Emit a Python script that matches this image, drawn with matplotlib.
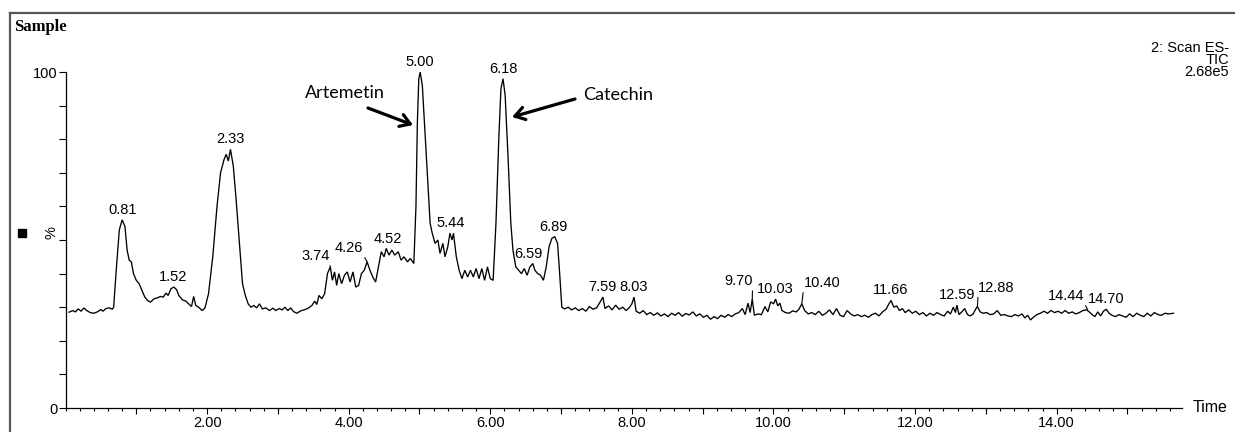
import numpy as np
import matplotlib
matplotlib.use("Agg")
import matplotlib.pyplot as plt
from matplotlib.lines import Line2D
from matplotlib.ticker import FixedLocator, MultipleLocator, FuncFormatter

# ---------------- data ----------------
time_min = [
    0.05, 0.10, 0.14, 0.18, 0.22, 0.26, 0.30, 0.35, 0.40, 0.45, 0.50, 0.53, 0.57, 0.62, 0.66, 0.68,
    0.72, 0.76, 0.80, 0.84, 0.87, 0.90, 0.93, 0.96, 1.00, 1.04, 1.08, 1.12, 1.16, 1.20, 1.25, 1.30,
    1.34, 1.38, 1.42, 1.45, 1.49, 1.53, 1.57, 1.60, 1.65, 1.70, 1.74, 1.78, 1.81, 1.84, 1.88, 1.93,
    1.97, 2.02, 2.08, 2.14, 2.19, 2.24, 2.27, 2.30, 2.33, 2.37, 2.41, 2.46, 2.50, 2.54, 2.58, 2.62,
    2.66, 2.70, 2.74, 2.78, 2.83, 2.88, 2.93, 2.97, 3.02, 3.06, 3.10, 3.14, 3.18, 3.22, 3.27, 3.32,
    3.37, 3.42, 3.48, 3.52, 3.55, 3.58, 3.62, 3.66, 3.70, 3.74, 3.77, 3.80, 3.83, 3.86, 3.90, 3.94,
    3.98, 4.02, 4.06, 4.10, 4.14, 4.18, 4.22, 4.26, 4.30, 4.34, 4.38, 4.42, 4.46, 4.50, 4.53, 4.57,
    4.61, 4.65, 4.70, 4.74, 4.78, 4.83, 4.87, 4.92, 4.95, 4.97, 4.99, 5.01, 5.04, 5.07, 5.11, 5.15,
    5.18, 5.22, 5.26, 5.29, 5.33, 5.36, 5.40, 5.43, 5.46, 5.48, 5.52, 5.56, 5.60, 5.64, 5.68, 5.72,
    5.76, 5.80, 5.84, 5.88, 5.92, 5.96, 6.00, 6.04, 6.08, 6.12, 6.15, 6.18, 6.21, 6.25, 6.29, 6.32,
    6.36, 6.40, 6.44, 6.48, 6.52, 6.56, 6.60, 6.63, 6.67, 6.71, 6.75, 6.79, 6.83, 6.87, 6.91, 6.95,
    6.98, 7.01, 7.05, 7.10, 7.15, 7.20, 7.25, 7.30, 7.35, 7.40, 7.45, 7.50, 7.55, 7.59, 7.62, 7.67,
    7.72, 7.77, 7.82, 7.87, 7.92, 7.96, 8.00, 8.03, 8.06, 8.11, 8.16, 8.21, 8.26, 8.31, 8.36, 8.41,
    8.46, 8.51, 8.56, 8.61, 8.66, 8.71, 8.76, 8.81, 8.86, 8.91, 8.96, 9.01, 9.06, 9.11, 9.16, 9.21,
    9.26, 9.31, 9.36, 9.41, 9.46, 9.51, 9.56, 9.60, 9.64, 9.67, 9.70, 9.73, 9.78, 9.83, 9.88, 9.92,
    9.96, 10.00, 10.03, 10.06, 10.09, 10.12, 10.17, 10.22, 10.27, 10.32, 10.36, 10.40, 10.44, 10.49,
    10.54, 10.59, 10.64, 10.69, 10.74, 10.79, 10.84, 10.89, 10.94, 10.99, 11.04, 11.09, 11.14, 11.19,
    11.24, 11.29, 11.34, 11.39, 11.44, 11.49, 11.54, 11.59, 11.63, 11.66, 11.70, 11.74, 11.78, 11.82,
    11.86, 11.91, 11.96, 12.01, 12.06, 12.11, 12.16, 12.21, 12.26, 12.31, 12.36, 12.41, 12.46, 12.50,
    12.54, 12.57, 12.59, 12.62, 12.66, 12.70, 12.74, 12.78, 12.82, 12.86, 12.88, 12.92, 12.96, 13.01,
    13.06, 13.11, 13.16, 13.21, 13.26, 13.31, 13.36, 13.41, 13.46, 13.51, 13.55, 13.59, 13.63, 13.67,
    13.72, 13.77, 13.82, 13.87, 13.92, 13.97, 14.02, 14.07, 14.12, 14.17, 14.22, 14.27, 14.32, 14.37,
    14.42, 14.46, 14.50, 14.54, 14.58, 14.62, 14.66, 14.70, 14.74, 14.78, 14.83, 14.88, 14.93, 14.98,
    15.03, 15.08, 15.13, 15.18, 15.23, 15.28, 15.33, 15.38, 15.43, 15.48, 15.53, 15.58, 15.65,
]
intensity_pct = [
    28.5, 29.0, 28.6, 29.5, 28.8, 29.8, 29.0, 28.4, 28.2, 28.6, 29.3, 28.8, 29.6, 29.8, 29.4, 30.0,
    42.0, 53.0, 56.0, 54.0, 47.0, 44.0, 43.5, 40.0, 38.0, 37.0, 35.0, 33.0, 32.0, 31.5, 32.5, 32.8,
    33.2, 33.0, 34.2, 33.5, 35.5, 36.0, 35.2, 33.5, 32.2, 31.8, 31.0, 30.2, 33.2, 30.5, 30.0, 29.0,
    29.8, 34.0, 45.0, 60.0, 70.0, 74.0, 75.5, 73.5, 77.0, 72.0, 62.0, 48.0, 37.0, 33.5, 31.0, 30.0,
    30.5, 29.8, 31.0, 29.5, 29.8, 29.0, 29.7, 29.0, 29.6, 29.2, 30.0, 29.0, 29.8, 28.7, 28.2, 28.9,
    29.2, 29.6, 30.5, 31.8, 30.8, 33.5, 32.5, 34.0, 40.0, 42.0, 38.0, 40.5, 36.5, 40.0, 37.0, 39.5,
    40.5, 37.5, 40.5, 36.0, 36.5, 40.0, 41.0, 43.5, 41.0, 39.0, 37.5, 42.0, 46.5, 45.0, 47.5, 45.5,
    47.0, 45.5, 46.5, 44.0, 45.0, 43.5, 44.5, 43.0, 60.0, 85.0, 98.0, 100.0, 96.0, 85.0, 70.0, 55.0,
    52.0, 49.0, 50.0, 46.0, 49.0, 45.0, 48.0, 52.0, 50.0, 52.0, 45.0, 41.0, 38.5, 41.0, 39.0, 41.0,
    39.0, 41.5, 38.5, 41.5, 38.0, 42.0, 38.5, 38.0, 55.0, 80.0, 95.0, 98.0, 93.0, 75.0, 55.0, 47.0,
    42.0, 41.0, 40.0, 41.5, 39.5, 42.0, 43.0, 41.0, 40.0, 39.5, 38.0, 42.0, 48.0, 50.5, 51.0, 49.0,
    40.0, 30.0, 29.5, 30.0, 29.2, 29.8, 29.0, 29.6, 28.8, 30.2, 29.4, 29.8, 31.5, 33.0, 29.6, 30.4,
    29.2, 30.6, 29.4, 30.0, 29.0, 29.8, 31.0, 33.0, 28.8, 28.2, 29.0, 27.8, 28.4, 27.6, 28.3, 27.4,
    28.0, 27.2, 28.2, 27.6, 28.4, 27.3, 28.1, 27.7, 28.6, 27.4, 28.0, 27.0, 27.6, 26.4, 27.2, 26.6,
    27.6, 27.0, 27.8, 27.2, 28.0, 28.4, 29.6, 27.8, 31.2, 28.4, 32.4, 27.6, 28.0, 27.8, 30.2, 28.6,
    31.6, 31.0, 32.4, 30.4, 31.2, 29.0, 28.4, 28.2, 28.9, 28.6, 29.4, 31.0, 29.0, 28.0,
    28.4, 27.8, 28.8, 27.6, 28.2, 29.2, 27.8, 29.6, 27.6, 27.2, 29.0, 28.0, 27.4, 27.8,
    27.2, 27.6, 27.0, 27.8, 28.2, 27.4, 28.6, 29.4, 31.0, 32.0, 30.0, 30.4, 29.0, 29.6,
    28.4, 29.2, 28.2, 28.8, 27.8, 28.4, 27.4, 28.2, 27.6, 28.4, 27.8, 27.4, 28.8, 28.0,
    30.0, 28.4, 30.6, 27.8, 28.6, 29.6, 27.8, 27.4, 28.0, 29.6, 30.2, 28.6, 28.2, 28.4,
    27.8, 28.0, 29.0, 27.6, 27.8, 27.4, 27.2, 27.8, 27.4, 28.0, 26.8, 27.6, 26.2, 27.0,
    27.8, 28.2, 28.8, 28.2, 29.0, 28.4, 28.8, 28.2, 29.0, 28.2, 28.6, 28.0, 28.4, 29.0,
    29.2, 28.6, 27.8, 27.2, 28.6, 27.4, 28.8, 29.4, 28.2, 27.6, 27.2, 27.8, 27.4, 27.0,
    28.0, 27.2, 28.2, 27.6, 27.2, 28.2, 27.4, 28.4, 27.8, 27.6, 28.2, 28.0, 28.2,
]

peak_labels = ["0.81", "1.52", "2.33", "3.74", "4.26", "4.52", "5.00", "5.44", "6.18", "6.59",
               "6.89", "7.59", "8.03", "9.70", "10.03", "10.40", "11.66", "12.59", "12.88",
               "14.44", "14.70"]

x_tick_labels = ["2.00", "4.00", "6.00", "8.00", "10.00", "12.00", "14.00"]
y_tick_labels = ["0", "100"]

compounds = ["Artemetin", "Catechin"]
compound_peaks = [5.00, 6.18]

# ---------------- styling / layout ----------------
W, H = 1235, 432
DPI = 100
fig = plt.figure(figsize=(W / DPI, H / DPI), dpi=DPI)
fig.patch.set_facecolor("white")

# axes box in pixels: x 0 -> px 65.5, x 15.77 -> px 1182 ; y 0 -> py 408, y 100 -> py 72
ax_l, ax_r = 65.5, 1182.0
ax_b, ax_t = 408.0, 72.0
XMAX = 15.77
ax = fig.add_axes([ax_l / W, 1 - ax_b / H, (ax_r - ax_l) / W, (ax_b - ax_t) / H])
ax.set_xlim(0, XMAX)
ax.set_ylim(0, 100)
ax.set_facecolor("white")

t = np.array(time_min)
v = np.array(intensity_pct)
ax.plot(t, v, color="black", lw=0.95, solid_joinstyle="miter")

for s in ["top", "right"]:
    ax.spines[s].set_visible(False)
for s in ["left", "bottom"]:
    ax.spines[s].set_color("black")
    ax.spines[s].set_linewidth(0.9)

# x ticks
major_x = [float(l) for l in x_tick_labels]
ax.xaxis.set_major_locator(FixedLocator(major_x))
ax.xaxis.set_major_formatter(FuncFormatter(lambda val, pos: f"{val:.2f}"))
ax.xaxis.set_minor_locator(MultipleLocator(0.2))
ax.tick_params(axis="x", which="major", direction="out", length=4.5, width=0.8, pad=1.5,
               labelsize=10.5, colors="black")
ax.tick_params(axis="x", which="minor", direction="out", length=2.5, width=0.8)
for lab in ax.get_xticklabels():
    lab.set_family("Liberation Sans")
# medium ticks at odd minutes
sec = ax.secondary_xaxis("bottom")
sec.set_xticks([1, 3, 5, 7, 9, 11, 13, 15])
sec.tick_params(direction="out", length=4, width=0.8, labelbottom=False)
sec.spines["bottom"].set_visible(False)

# y ticks
ax.yaxis.set_major_locator(FixedLocator([float(l) for l in y_tick_labels]))
ax.yaxis.set_minor_locator(MultipleLocator(10))
ax.tick_params(axis="y", which="major", direction="out", length=5, width=0.8, pad=0.5,
               labelsize=10.5)
ax.tick_params(axis="y", which="minor", direction="out", length=5, width=0.8)
for lab in ax.get_yticklabels():
    lab.set_family("Liberation Sans")

# peak labels
label_offsets = {  # pixel offsets of label (center-bottom) from the peak point
    "3.74": (-15, 4), "4.26": (-18, 7), "9.70": (-14, 11), "10.40": (20, 14),
    "12.88": (19, 12), "14.44": (-22, 7), "6.59": (-4, 3), "4.52": (2, 2),
}
leader = {"3.74": (1, 0), "4.26": (1, 0), "9.70": (1, 0), "10.40": (0, 0),
          "12.88": (0, 0), "14.44": (1, 0)}
for lab in peak_labels:
    tp = float(lab)
    mask = np.abs(t - tp) <= 0.035
    yp = v[mask].max()
    dx, dy = label_offsets.get(lab, (0, 3))
    kw = {}
    if lab in leader:
        kw["arrowprops"] = dict(arrowstyle="-", lw=0.8, color="black", shrinkA=0, shrinkB=0,
                                relpos=leader[lab])
    ax.annotate(lab, xy=(tp, yp), xytext=(dx, dy), textcoords="offset pixels",
                ha="center", va="bottom", fontsize=10.5, family="Liberation Sans",
                annotation_clip=False, **kw)

# compound call-outs (hand-drawn arrows)
def px2data(px, py):
    return ((px - ax_l) / (ax_r - ax_l) * XMAX, (ax_b - py) / (ax_b - ax_t) * 100)

arrow_geom = {  # tail, head, text centre in pixels
    "Artemetin": ((368, 108), (413, 125), (345, 93)),
    "Catechin": ((575, 99), (512, 117), (618, 95)),
}
for name in compounds:
    tail, head, txt = arrow_geom[name]
    ax.annotate("", xy=px2data(*head), xytext=px2data(*tail),
                arrowprops=dict(arrowstyle="->,head_length=0.7,head_width=0.45",
                                lw=2.3, color="black", shrinkA=0, shrinkB=0),
                annotation_clip=False)
    tx, ty = px2data(*txt)
    ax.text(tx, ty, name, ha="center", va="center", fontsize=13,
            family=["Lato", "DejaVu Sans"], clip_on=False)

# figure-level decorations
fig.add_artist(Line2D([10 / W, 10 / W], [0, 1 - 13 / H], color="#555555", lw=1.6,
                      transform=fig.transFigure))
fig.add_artist(Line2D([10 / W, 1.0], [1 - 13 / H, 1 - 13 / H], color="#555555", lw=1.6,
                      transform=fig.transFigure))
fig.text(14 / W, 1 - 27 / H, "Sample", ha="left", va="center", fontsize=12,
         family="Liberation Serif", weight="bold")
for i, line in enumerate(["2: Scan ES-", "TIC", "2.68e5"]):
    fig.text(1229 / W, 1 - (48 + 12 * i) / H, line, ha="right", va="center",
             fontsize=10.5, family="Liberation Sans")
fig.text(1193 / W, 1 - 408 / H, "Time", ha="left", va="center", fontsize=11.5,
         family="Liberation Sans")
fig.text(51 / W, 1 - 233 / H, "%", ha="center", va="center", fontsize=10.5, rotation=90,
         family="Liberation Sans")
fig.add_artist(plt.Rectangle((18 / W, 1 - 237 / H), 8 / W, 8 / H, color="black",
                             transform=fig.transFigure))

fig.savefig("out.png", dpi=DPI, facecolor="white")
